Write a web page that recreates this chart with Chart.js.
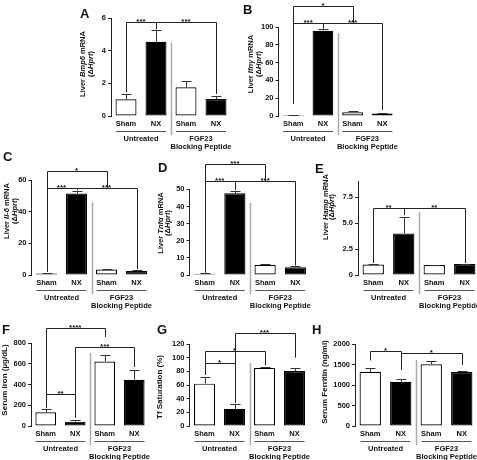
<!DOCTYPE html>
<html>
<head>
<meta charset="utf-8">
<script src="https://cdn.jsdelivr.net/npm/chart.js@4.4.0/dist/chart.umd.min.js"></script>
<style>
  html, body { margin: 0; padding: 0; background: #fff; overflow: hidden; }
  body { width: 477px; height: 460px; position: relative; }
  canvas { position: absolute; }
</style>
</head>
<body>
<script>
// groups on the x axis, same for every panel
const groups = ['Sham', 'NX', 'Sham', 'NX'];
const barColors = ['#ffffff', '#000000', '#ffffff', '#000000'];

// mean and SEM per panel
const bmp6Mean = [1.02, 4.55, 1.76, 1.04];
const bmp6Sem = [0.33, 0.72, 0.38, 0.2];
const ifngMean = [1, 95.8, 4.2, 2.8];
const ifngSem = [0.3, 1.5, 1.0, 0.8];
const il6Mean = [1, 51.5, 3.5, 2.5];
const il6Sem = [0.3, 1.5, 0.4, 0.5];
const tnfaMean = [0.8, 47.7, 6, 4.5];
const tnfaSem = [0.3, 1.5, 0.4, 0.5];
const hampMean = [1.0, 4.0, 0.95, 1.05];
const hampSem = [0.05, 1.55, 0.05, 0.05];
const ironMean = [132, 42, 622, 445];
const ironSem = [35, 14, 65, 90];
const tfsatMean = [62, 25, 85, 80.5];
const tfsatSem = [9, 7, 1, 4.5];
const ferritinMean = [1325, 1081, 1504, 1317];
const ferritinSem = [98, 57, 81, 33];

const FONT = '"Liberation Sans", Arial, sans-serif';
const INK = '#111';

// box = canvas [x, y, w, h], plot = [left, right, top, bottom] in page px
const panels = [
  { letter: 'A', lp: [80, 18], box: [74, 0, 162, 152], plot: [111, 231, 18, 116],
    mean: bmp6Mean, sem: bmp6Sem, max: 6, step: 2,
    ylab: ['Liver _Bmp6_ mRNA', '(Δ_Hprt_)'], ylx: [83, 91], yly: 64, ysize: 7.5,
    divTop: 4.5,
    brackets: [{ at: [0, 1, 3], level: 5.76, ends: [1.45, 5.3, 1.35], stars: ['***', '***'] }] },
  { letter: 'B', lp: [243, 14], box: [236, 0, 245, 152], plot: [278.5, 397, 27, 116],
    mean: ifngMean, sem: ifngSem, max: 100, step: 20,
    ylab: ['Liver _Ifnγ_ mRNA', '(Δ_Hprt_)'], ylx: [251, 259], yly: 64, ysize: 7.5,
    divTop: 93,
    brackets: [{ at: [0, 2], level: 123.6, ends: [13.5, 104.5], stars: ['*'] },
               { at: [0, 1, 3], level: 104.5, ends: [13.5, 98, 6.7], stars: ['***', '***'] }] },
  { letter: 'C', lp: [3, 161], box: [0, 150, 155, 162], plot: [31.5, 151.5, 180, 275],
    mean: il6Mean, sem: il6Sem, max: 60, step: 20,
    ylab: ['Liver _Il-6_ mRNA', '(Δ_Hprt_)'], ylx: [7, 15], yly: 211, ysize: 7.5,
    divTop: 46,
    brackets: [{ at: [0, 2], level: 65.7, ends: [2, 55], stars: ['*'] },
               { at: [0, 1, 3], level: 55, ends: [2, 53.5, 3.8], stars: ['***', '***'] }] },
  { letter: 'D', lp: [158, 172], box: [155, 150, 157, 162], plot: [189.5, 310.5, 189.3, 275],
    mean: tnfaMean, sem: tnfaSem, max: 50, step: 10,
    ylab: ['Liver _Tnfα_ mRNA', '(Δ_Hprt_)'], ylx: [161, 168], yly: 223, ysize: 7.5,
    divTop: 42,
    brackets: [{ at: [0, 2], level: 64.8, ends: [1.5, 54.8], stars: ['***'] },
               { at: [0, 1, 3], level: 54.8, ends: [1.5, 49.5, 5.5], stars: ['***', '***'] }] },
  { letter: 'E', lp: [315, 173], box: [310, 150, 175, 162], plot: [358, 480, 181.4, 275],
    mean: hampMean, sem: hampSem, max: 9, step: 2.5, tickMax: 7.5,
    fmt: v => v === 0 ? '0' : v.toFixed(1),
    ylab: ['Liver _Hamp_ mRNA', '(Δ_Hprt_)'], ylx: [326, 332], yly: 207, ysize: 7.5,
    divTop: 6.06,
    brackets: [{ at: [0, 1, 3], level: 6.44, ends: [1.15, 5.75, 1.15], stars: ['**', '**'] }] },
  { letter: 'F', lp: [2, 334], box: [0, 305, 155, 155], plot: [31, 149, 343, 426],
    mean: ironMean, sem: ironSem, max: 800, step: 200,
    ylab: ['Serum Iron (µg/dL)'], ylx: [5], yly: 380, ysize: 8,
    divTop: 704,
    brackets: [{ at: [0, 2], level: 945, ends: [175, 858], stars: ['****'] },
               { at: [1, 3], level: 761, ends: [77, 569], stars: ['***'] },
               { at: [0, 1], level: 308, ends: [175, 77], stars: ['**'] }] },
  { letter: 'G', lp: [157, 334], box: [155, 305, 157, 155], plot: [189.5, 309.5, 344, 426],
    mean: tfsatMean, sem: tfsatSem, max: 120, step: 20,
    ylab: ['Tf Saturation (%)'], ylx: [160], yly: 387, ysize: 8,
    divTop: 92,
    brackets: [{ at: [1, 3], level: 136, ends: [34, 100], stars: ['***'] },
               { at: [0, 2], level: 110, ends: [75, 89], stars: ['*'] },
               { at: [0, 1], level: 92, ends: [75, 34], stars: ['*'] }] },
  { letter: 'H', lp: [312, 334], box: [310, 305, 170, 155], plot: [355, 477, 344, 426],
    mean: ferritinMean, sem: ferritinSem, max: 2000, step: 500,
    ylab: ['Serum Ferritin (ng/ml)'], ylx: [325], yly: 382, ysize: 8,
    divTop: 1610,
    brackets: [{ at: [0, 1], level: 1829, ends: [1600, 1370], stars: ['*'] },
               { at: [1, 3], level: 1780, ends: [1370, 1490], stars: ['*'] }] }
];

function fontOf(size, italic) {
  return (italic ? 'italic ' : '') + 'bold ' + size + 'px ' + FONT;
}

// centred text where _x_ parts are italic
function richText(ctx, str, x, y, size) {
  const parts = str.split('_').map((t, i) => ({ t: t, it: i % 2 === 1 }));
  let total = 0;
  parts.forEach(p => { ctx.font = fontOf(size, p.it); p.w = ctx.measureText(p.t).width; total += p.w; });
  let cx = x - total / 2;
  parts.forEach(p => { ctx.font = fontOf(size, p.it); ctx.fillText(p.t, cx, y); cx += p.w; });
}

function makeDeco(p) {
  const ox = p.box[0], oy = p.box[1];
  return {
    id: 'deco',
    afterDatasetsDraw(chart) {
      const ctx = chart.ctx;
      const ys = chart.scales.y;
      const meta = chart.getDatasetMeta(0);
      const X = i => meta.data[i].x;
      const Y = v => ys.getPixelForValue(v);
      const bottom = chart.chartArea.bottom;
      ctx.save();

      // error bars (upper only)
      ctx.strokeStyle = '#333';
      ctx.lineWidth = 1;
      p.mean.forEach((m, i) => {
        const x = Math.round(X(i)) + 0.5;
        const yTop = Math.round(Y(m + p.sem[i])) + 0.5;
        ctx.beginPath();
        ctx.moveTo(x, Y(m));
        ctx.lineTo(x, yTop);
        ctx.moveTo(x - 5, yTop);
        ctx.lineTo(x + 5, yTop);
        ctx.stroke();
      });

      // significance brackets
      ctx.strokeStyle = '#222';
      ctx.fillStyle = INK;
      ctx.textAlign = 'center';
      ctx.textBaseline = 'alphabetic';
      ctx.font = fontOf(8, false);
      p.brackets.forEach(b => {
        const yl = Math.round(Y(b.level)) + 0.5;
        ctx.beginPath();
        ctx.moveTo(Math.round(X(b.at[0])) + 0.5, yl);
        ctx.lineTo(Math.round(X(b.at[b.at.length - 1])) + 0.5, yl);
        b.at.forEach((i, k) => {
          const x = Math.round(X(i)) + 0.5;
          ctx.moveTo(x, yl);
          ctx.lineTo(x, Y(b.ends[k]));
        });
        ctx.stroke();
        b.stars.forEach((s, k) => {
          ctx.fillText(s, (X(b.at[k]) + X(b.at[k + 1])) / 2, yl + 1.5);
        });
      });

      // divider between the two treatment groups
      const dx = Math.round((X(1) + X(2)) / 2) + 0.5;
      ctx.strokeStyle = '#aaa';
      ctx.lineWidth = 1.5;
      ctx.beginPath();
      ctx.moveTo(dx, Y(p.divTop));
      ctx.lineTo(dx, bottom + 19);
      ctx.stroke();

      // group underlines and labels
      ctx.strokeStyle = '#555';
      ctx.lineWidth = 1;
      ctx.font = fontOf(7.5, false);
      [0, 1].forEach(g => {
        const cx = (X(2 * g) + X(2 * g + 1)) / 2;
        const yu = Math.round(bottom + 15) + 0.5;
        ctx.beginPath();
        ctx.moveTo(cx - 25, yu);
        ctx.lineTo(cx + 25, yu);
        ctx.stroke();
        if (g === 0) {
          ctx.fillText('Untreated', cx, bottom + 24.5);
        } else {
          ctx.fillText('FGF23', cx, bottom + 24.5);
          ctx.fillText('Blocking Peptide', cx, bottom + 32.5);
        }
      });

      // panel letter
      ctx.textAlign = 'left';
      ctx.font = fontOf(13, false);
      ctx.fillText(p.letter, p.lp[0] - ox, p.lp[1] - oy);

      // y axis title, rotated
      ctx.textAlign = 'left';
      ctx.textBaseline = 'middle';
      p.ylab.forEach((line, k) => {
        ctx.save();
        ctx.translate(p.ylx[k] - ox, p.yly - oy);
        ctx.rotate(-Math.PI / 2);
        richText(ctx, line, 0, 0, p.ysize);
        ctx.restore();
      });

      ctx.restore();
    }
  };
}

function makePanel(p) {
  const [cx, cy, cw, ch] = p.box;
  const [l, r, t, b] = p.plot;
  const c = document.createElement('canvas');
  c.width = cw;
  c.height = ch;
  c.style.left = cx + 'px';
  c.style.top = cy + 'px';
  c.style.width = cw + 'px';
  c.style.height = ch + 'px';
  document.body.appendChild(c);

  const tickFont = { family: FONT, size: 7.5, weight: 'bold' };
  new Chart(c, {
    type: 'bar',
    data: {
      labels: groups,
      datasets: [{
        data: p.mean,
        backgroundColor: barColors,
        borderColor: '#000',
        borderWidth: 1.2,
        borderSkipped: false,
        barPercentage: 0.7,
        categoryPercentage: 1
      }]
    },
    options: {
      responsive: false,
      animation: false,
      devicePixelRatio: 1,
      layout: { padding: { top: t - cy, right: cx + cw - r, bottom: 0, left: 0 } },
      plugins: {
        legend: { display: false },
        tooltip: { enabled: false }
      },
      scales: {
        x: {
          grid: { display: false, drawTicks: false },
          border: { display: false },
          ticks: { color: INK, font: tickFont, padding: 3, maxRotation: 0, autoSkip: false },
          afterFit: s => { s.height = cy + ch - b; }
        },
        y: {
          min: 0,
          max: p.max,
          grid: { drawOnChartArea: false, drawTicks: true, tickLength: 3, color: '#222' },
          border: { display: true, color: '#222', width: 1 },
          ticks: {
            stepSize: p.step,
            includeBounds: false,
            color: INK,
            font: tickFont,
            padding: 2,
            callback: p.fmt || (v => v)
          },
          afterBuildTicks: s => {
            if (p.tickMax) s.ticks = s.ticks.filter(tk => tk.value <= p.tickMax);
          },
          afterFit: s => { s.width = l - cx; }
        }
      }
    },
    plugins: [makeDeco(p)]
  });
}

panels.forEach(makePanel);
</script>
</body>
</html>
